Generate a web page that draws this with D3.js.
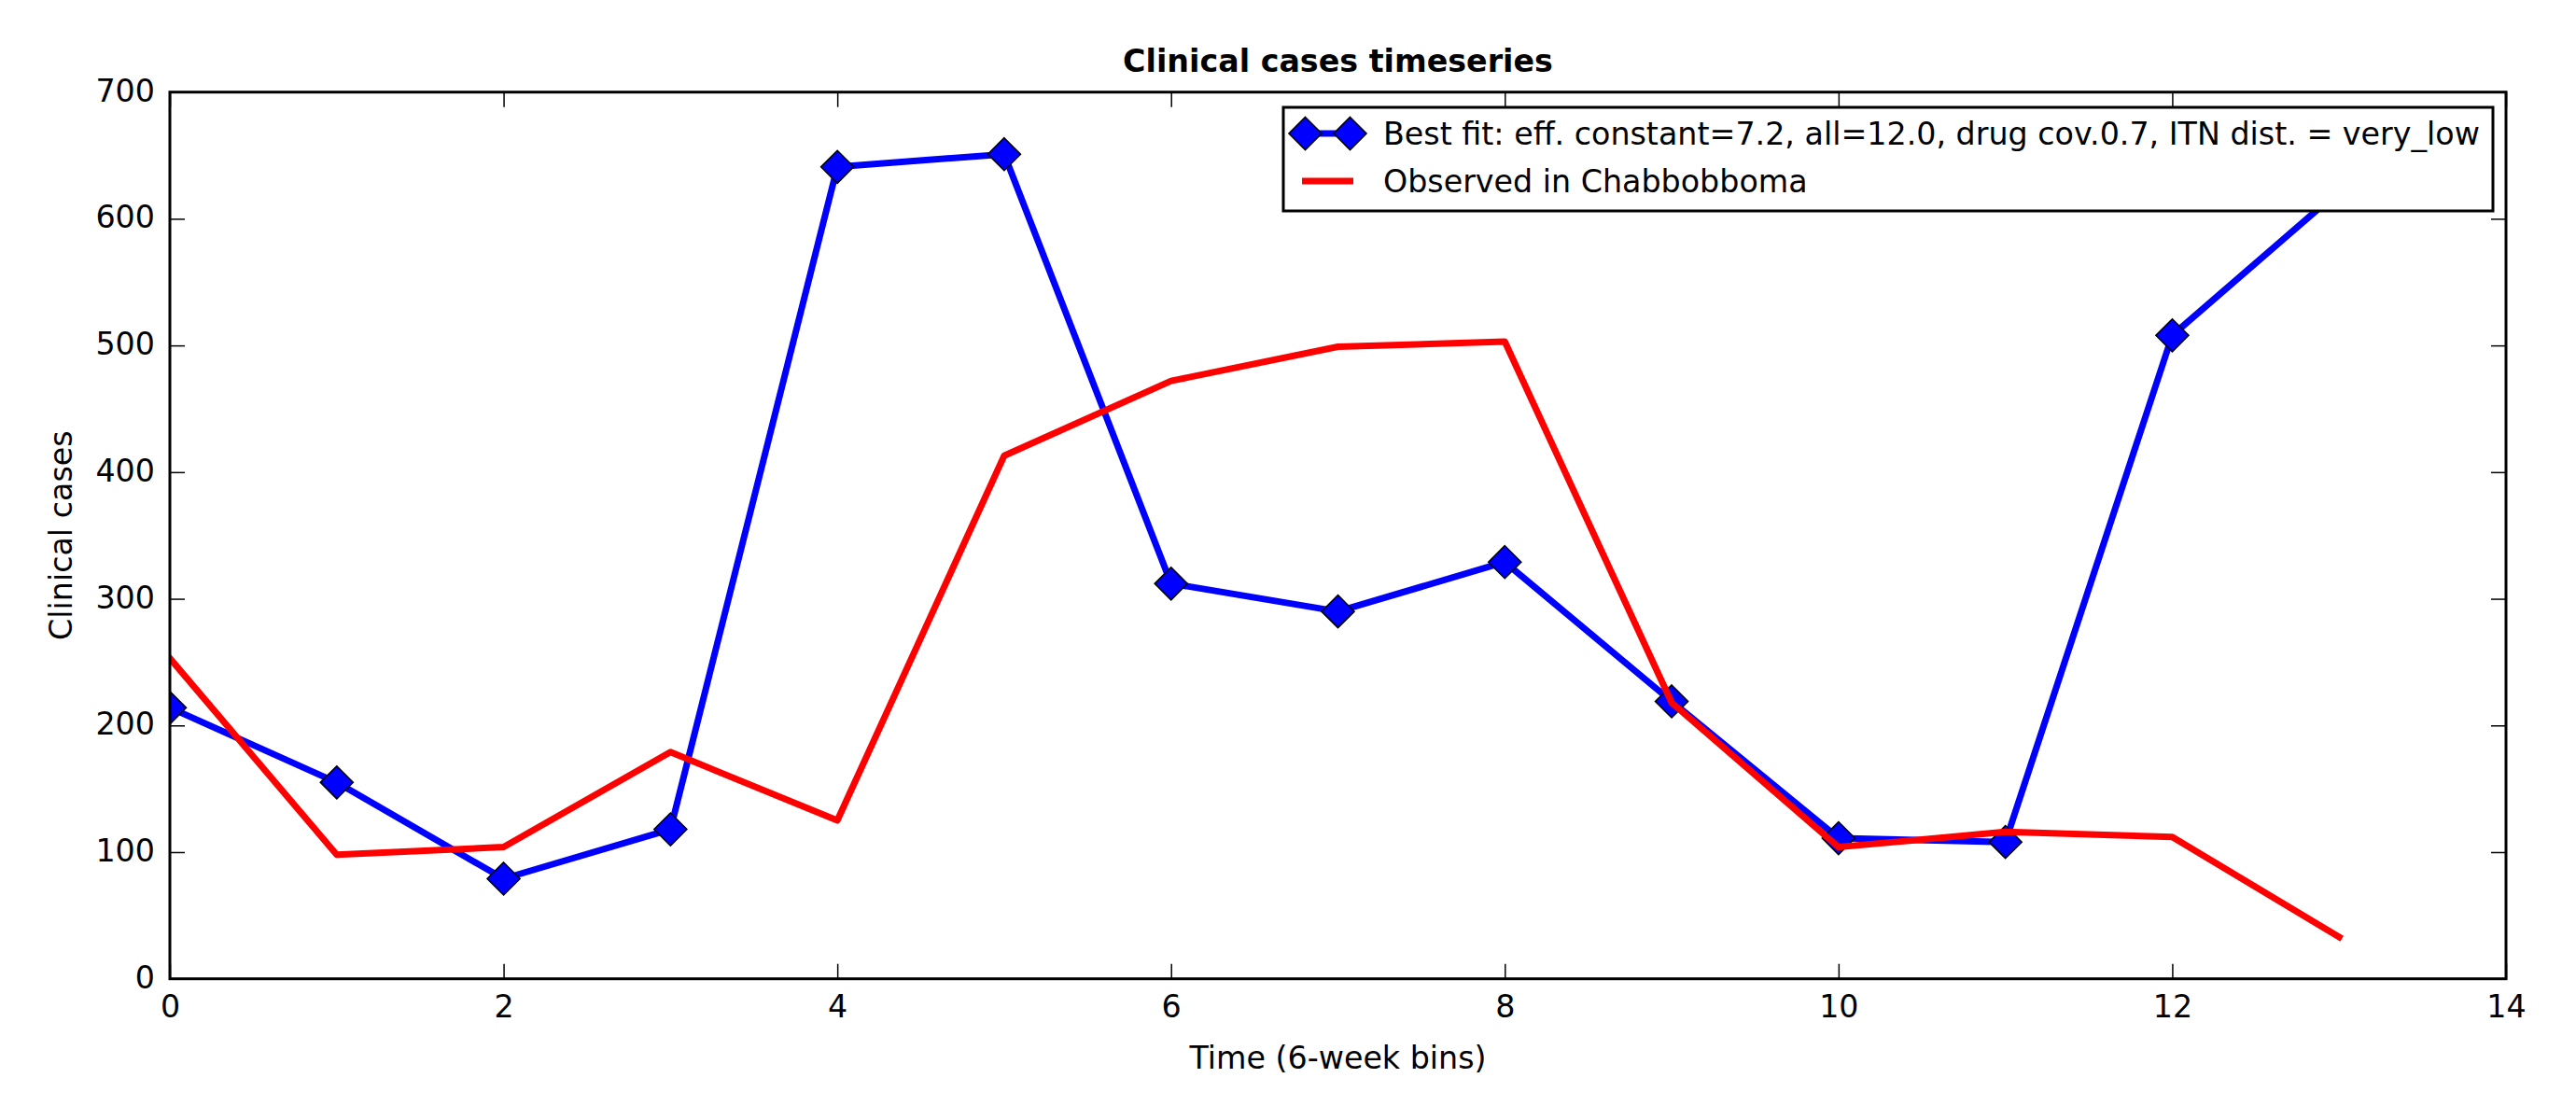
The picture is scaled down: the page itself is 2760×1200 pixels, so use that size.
<!DOCTYPE html>
<html>
<head>
<meta charset="utf-8">
<script src="https://cdn.jsdelivr.net/npm/d3@7"></script>
<style>
  html, body { margin: 0; padding: 0; background: #ffffff; }
  svg { display: block; }
  text { font-family: "DejaVu Sans", sans-serif; fill: #000; }
</style>
</head>
<body>
<script>
// ---- data ----
const timeBins = [0, 1, 2, 3, 4, 5, 6, 7, 8, 9, 10, 11, 12, 13];
const bestFit = [214, 155, 79, 118, 641, 651, 312, 290, 329, 219, 111, 108, 508, 622];
const observed = [253, 98, 104, 179, 125, 413, 472, 499, 503, 218, 104, 116, 112, 33];
const xTicks = [0, 2, 4, 6, 8, 10, 12, 14];
const yTicks = [0, 100, 200, 300, 400, 500, 600, 700];
const seriesNames = ["Best fit: eff. constant=7.2, all=12.0, drug cov.0.7, ITN dist. = very_low", "Observed in Chabbobboma"];
const titleText = "Clinical cases timeseries";
const xLabelText = "Time (6-week bins)";
const yLabelText = "Clinical cases";

// ---- layout ----
const W = 2760, H = 1200;
const L = 182, T = 98.7, R = 2685, B = 1048.7;
const FS = 33.3;
const LW = 7;

const svg = d3.select("body").append("svg").attr("width", W).attr("height", H);

const x = d3.scaleLinear().domain([0, 14]).range([L, R]);
const y = d3.scaleLinear().domain([0, 700]).range([B, T]);

svg.append("defs").append("clipPath").attr("id", "plotclip")
  .append("rect").attr("x", L).attr("y", T).attr("width", R - L).attr("height", B - T);

const plot = svg.append("g").attr("clip-path", "url(#plotclip)");

const line = d3.line().x((d, i) => x(timeBins[i])).y(d => y(d));

const diamond = (cx, cy, r) => `M${cx},${cy - r}L${cx + r},${cy}L${cx},${cy + r}L${cx - r},${cy}Z`;

// best fit line + markers
plot.append("path").datum(bestFit).attr("d", line)
  .attr("fill", "none").attr("stroke", "#0000ff").attr("stroke-width", LW)
  .attr("stroke-linejoin", "round").attr("stroke-linecap", "square");
plot.selectAll("path.mk").data(bestFit).enter().append("path").attr("class", "mk")
  .attr("d", (d, i) => diamond(x(timeBins[i]), y(d), 17.5))
  .attr("fill", "#0000ff").attr("stroke", "#000").attr("stroke-width", 1.6);

// observed line
plot.append("path").datum(observed).attr("d", line)
  .attr("fill", "none").attr("stroke", "#ff0000").attr("stroke-width", LW)
  .attr("stroke-linejoin", "round").attr("stroke-linecap", "square");

// ---- axes (ticks inward on all sides) ----
const TL = 16;
const bottomAxis = d3.axisBottom(x).tickValues(xTicks).tickSize(-TL).tickPadding(0).tickFormat(d3.format("d"));
const gb = svg.append("g").attr("transform", `translate(0,${B})`).call(bottomAxis);
gb.select(".domain").remove();
gb.selectAll(".tick line").attr("stroke", "#000").attr("stroke-width", 1.5);
gb.selectAll(".tick text").attr("y", 41.5).attr("dy", null).attr("font-size", FS)
  .style("font-family", "DejaVu Sans");

const topAxis = d3.axisTop(x).tickValues(xTicks).tickSize(-TL).tickFormat("");
const gt = svg.append("g").attr("transform", `translate(0,${T})`).call(topAxis);
gt.select(".domain").remove();
gt.selectAll(".tick line").attr("stroke", "#000").attr("stroke-width", 1.5);

const leftAxis = d3.axisLeft(y).tickValues(yTicks).tickSize(-TL).tickPadding(0).tickFormat(d3.format("d"));
const gl = svg.append("g").attr("transform", `translate(${L},0)`).call(leftAxis);
gl.select(".domain").remove();
gl.selectAll(".tick line").attr("stroke", "#000").attr("stroke-width", 1.5);
gl.selectAll(".tick text").attr("x", -16).attr("dy", null).attr("y", 9.5).attr("font-size", FS)
  .attr("text-anchor", "end").style("font-family", "DejaVu Sans");

const rightAxis = d3.axisRight(y).tickValues(yTicks).tickSize(-TL).tickFormat("");
const gr = svg.append("g").attr("transform", `translate(${R},0)`).call(rightAxis);
gr.select(".domain").remove();
gr.selectAll(".tick line").attr("stroke", "#000").attr("stroke-width", 1.5);

// frame (spines)
svg.append("rect").attr("x", L).attr("y", T).attr("width", R - L).attr("height", B - T)
  .attr("fill", "none").attr("stroke", "#000").attr("stroke-width", 3);

// ---- labels ----
svg.append("text").attr("x", (L + R) / 2).attr("y", 77).attr("text-anchor", "middle")
  .attr("font-size", FS).attr("font-weight", "bold").text(titleText);
svg.append("text").attr("x", (L + R) / 2).attr("y", 1145).attr("text-anchor", "middle")
  .attr("font-size", FS).text(xLabelText);
svg.append("text").attr("transform", `translate(77,${(T + B) / 2}) rotate(-90)`)
  .attr("text-anchor", "middle").attr("font-size", FS).text(yLabelText);

// ---- legend ----
const lg = svg.append("g");
lg.append("rect").attr("x", 1375).attr("y", 115).attr("width", 1296).attr("height", 111)
  .attr("fill", "#fff").attr("stroke", "#000").attr("stroke-width", 3);
const hx0 = 1398.5, hx1 = 1446.5;
const rows = [143, 194];
lg.append("line").attr("x1", hx0).attr("x2", hx1).attr("y1", rows[0]).attr("y2", rows[0])
  .attr("stroke", "#0000ff").attr("stroke-width", LW).attr("stroke-linecap", "square");
[hx0, hx1].forEach(cx => {
  lg.append("path").attr("d", diamond(cx, rows[0], 17.5))
    .attr("fill", "#0000ff").attr("stroke", "#000").attr("stroke-width", 1.6);
});
lg.append("line").attr("x1", hx0).attr("x2", hx1).attr("y1", rows[1]).attr("y2", rows[1])
  .attr("stroke", "#ff0000").attr("stroke-width", LW).attr("stroke-linecap", "square");
seriesNames.forEach((name, i) => {
  lg.append("text").attr("x", 1482).attr("y", rows[i] + 12).attr("font-size", FS).text(name);
});
</script>
</body>
</html>
